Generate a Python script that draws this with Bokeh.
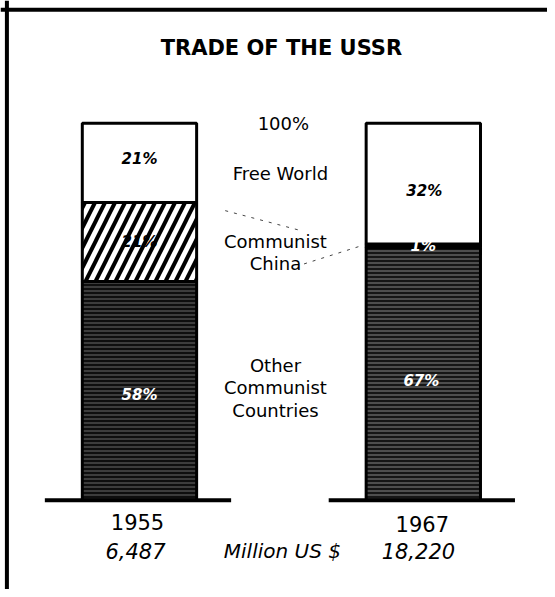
from bokeh.plotting import figure
from bokeh.models import ColumnDataSource, Range1d, Span
from bokeh.core.properties import value
from bokeh.embed import file_html
from bokeh.resources import INLINE

# ---- data ----
years = ["1955", "1967"]
totals = ["6,487", "18,220"]
free_world = [21, 32]
china = [21, 1]
other = [58, 67]
title = "TRADE OF THE USSR"
unit_label = "Million US $"
segment_names = ["Free World", "Communist\nChina", "Other\nCommunist\nCountries"]

# ---- layout ----
W, H = 547, 589
bar_x = [141, 429]          # bar centres in reference pixels
bar_w = 116
FONT = "DejaVu Sans"

p = figure(width=W, height=H, output_backend="svg", toolbar_location=None,
           x_range=Range1d(0, 555), y_range=Range1d(-23.69, 132.59),
           x_axis_type=None, y_axis_type=None, min_border=0)
p.extra_y_ranges = {"px": Range1d(597, 0)}
p.grid.visible = False
p.outline_line_color = None
p.background_fill_color = "white"
p.border_fill_color = "white"

# frame of the panel
p.add_layout(Span(location=6.5, dimension="height", line_color="black", line_width=4))
p.add_layout(Span(location=9.5, dimension="width", y_range_name="px", line_color="black", line_width=4))

# stacked segments
b_other = [0, 0]
t_other = [b_other[i] + other[i] for i in range(2)]
t_china = [t_other[i] + china[i] for i in range(2)]
t_free = [t_china[i] + free_world[i] for i in range(2)]

src_other = ColumnDataSource(dict(x=bar_x, bottom=b_other, top=t_other,
                                  fill=["#0e0e0e", "#161616"], ha=[0.38, 0.48]))
p.vbar(x="x", width=bar_w, bottom="bottom", top="top", source=src_other,
       fill_color="fill", line_color="black", line_width=3,
       hatch_pattern="-", hatch_color="white", hatch_scale=4, hatch_weight=1,
       hatch_alpha="ha")

src_china = ColumnDataSource(dict(x=bar_x, bottom=t_other, top=t_china,
                                  fill=["white", "black"], hp=["/", " "]))
p.vbar(x="x", width=bar_w, bottom="bottom", top="top", source=src_china,
       fill_color="fill", line_color="black", line_width=3,
       hatch_pattern="hp", hatch_color="black", hatch_scale=20, hatch_weight=4)

src_free = ColumnDataSource(dict(x=bar_x, bottom=t_china, top=t_free))
p.vbar(x="x", width=bar_w, bottom="bottom", top="top", source=src_free,
       fill_color="white", line_color="black", line_width=3)

# baselines
for cx in bar_x:
    p.segment(x0=[cx - 96], y0=[0], x1=[cx + 93], y1=[0], line_color="black", line_width=4)

# percentage labels inside bars
def pct(v):
    return f"{v}%"

lab_x = [141, 141, 141, 430, 429, 427]
lab_y = [t_china[0] + free_world[0] / 2 + 1, t_other[0] + china[0] / 2, other[0] / 2 - 1,
         t_china[1] + free_world[1] / 2 - 2, t_other[1] + 0.5, other[1] / 2 - 2]
lab_t = [pct(free_world[0]), pct(china[0]), pct(other[0]),
         pct(free_world[1]), pct(china[1]), pct(other[1])]
lab_c = ["black", "black", "white", "black", "white", "white"]
p.text(x=lab_x, y=lab_y, text=lab_t, text_color=lab_c, text_font=value(FONT),
       text_font_style="bold italic", text_font_size="15px",
       text_align="center", text_baseline="middle")

# leader lines from "Communist China" label
p.line(x=[228, 304], y=[213, 233], y_range_name="px", line_color="#444",
       line_width=1, line_dash="3 6")
p.line(x=[308, 368], y=[267, 248], y_range_name="px", line_color="#444",
       line_width=1, line_dash="3 6")

# title
p.text(x=[285], y=[48], y_range_name="px", text=[title], text_font=value(FONT),
       text_font_style="bold", text_font_size="21px", text_align="center",
       text_baseline="middle", text_color="black")

# 100% and segment names
p.text(x=[287], y=[125], y_range_name="px", text=["100%"], text_font=value(FONT),
       text_font_size="18px", text_align="center", text_baseline="middle")
p.text(x=[284, 279, 279], y=[175, 255.5, 392.5], y_range_name="px", text=segment_names,
       text_font=value(FONT), text_font_size="18px", text_align="center",
       text_baseline="middle", text_line_height=1.08)

# years and totals
p.text(x=[139, 428], y=[529, 531], y_range_name="px", text=years, text_font=value(FONT),
       text_font_size="21px", text_align="center", text_baseline="middle")
p.text(x=[137, 424], y=[558, 558], y_range_name="px", text=totals, text_font=value(FONT),
       text_font_style="italic", text_font_size="21px", text_align="center",
       text_baseline="middle")
p.text(x=[286], y=[558], y_range_name="px", text=[unit_label], text_font=value(FONT),
       text_font_style="italic", text_font_size="20px", text_align="center",
       text_baseline="middle")

open("out.html", "w").write(file_html(p, INLINE))
